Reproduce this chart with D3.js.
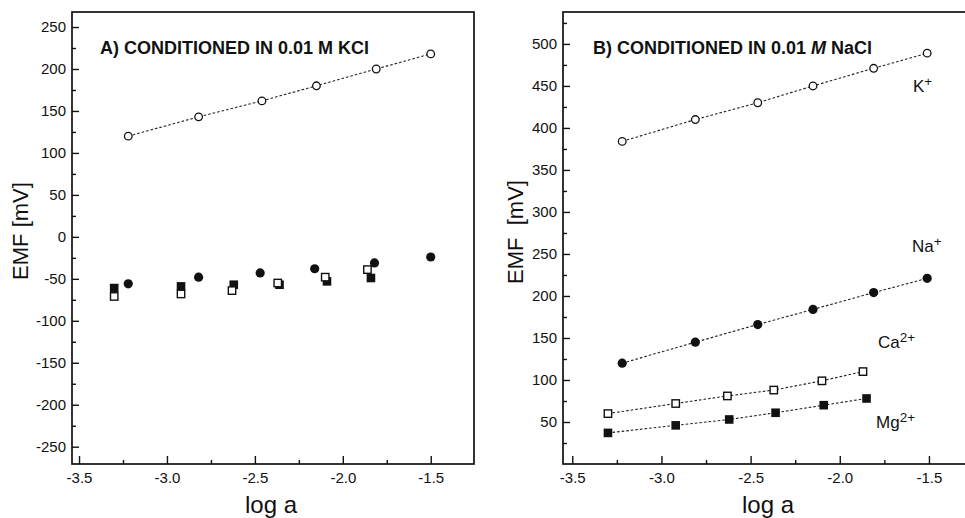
<!DOCTYPE html>
<html>
<head>
<meta charset="utf-8">
<script src="https://cdn.jsdelivr.net/npm/d3@7"></script>
<style>
  html, body { margin: 0; padding: 0; background: #fff; }
  svg { display: block; }
  text { font-family: "Liberation Sans", Arial, Helvetica, sans-serif; fill: #111; }
</style>
</head>
<body>
<svg id="chart" width="965" height="518"></svg>
<script>
// ---- Data: EMF response (mV) versus log activity of the primary ion ----
const xTicksMajor = [-3.5, -3.0, -2.5, -2.0, -1.5];
const xTicksMinor = [-3.25, -2.75, -2.25, -1.75];

// Panel A: electrode conditioned in 0.01 M KCl
const aKx  = [-3.22, -2.82, -2.46, -2.15, -1.81, -1.50];
const aKy  = [120, 143, 162, 180, 200, 218];
const aNax = [-3.22, -2.82, -2.47, -2.16, -1.82, -1.50];
const aNay = [-56, -48, -43, -38, -31, -24];
const aCax = [-3.30, -2.92, -2.63, -2.37, -2.10, -1.86];
const aCay = [-71, -68, -64, -55, -48, -39];
const aMgx = [-3.30, -2.92, -2.62, -2.36, -2.09, -1.84];
const aMgy = [-61, -59, -57, -57, -53, -49];
const aYTicksMajor = [-250, -200, -150, -100, -50, 0, 50, 100, 150, 200, 250];
const aYTicksMinor = [-225, -175, -125, -75, -25, 25, 75, 125, 175, 225];

// Panel B: electrode conditioned in 0.01 M NaCl
const bKx  = [-3.22, -2.81, -2.46, -2.15, -1.81, -1.51];
const bKy  = [384, 410, 430, 450, 471, 489];
const bNax = [-3.22, -2.81, -2.46, -2.15, -1.81, -1.51];
const bNay = [120, 145, 166, 184, 204, 221];
const bCax = [-3.30, -2.92, -2.63, -2.37, -2.10, -1.87];
const bCay = [60, 72, 81, 88, 99, 110];
const bMgx = [-3.30, -2.92, -2.62, -2.36, -2.09, -1.85];
const bMgy = [37, 46, 53, 61, 70, 78];
const bYTicksMajor = [50, 100, 150, 200, 250, 300, 350, 400, 450, 500];
const bYTicksMinor = [25, 75, 125, 175, 225, 275, 325, 375, 425, 475, 525];

const zip = (xs, ys) => xs.map((x, i) => ({ x, y: ys[i] }));

const svg = d3.select("#chart");
const INK = "#111";

// plain hyphen-minus for negative tick labels
const hyphen = f => v => f(v).replace("\u2212", "-");

function panel(cfg) {
  const g = svg.append("g");
  const x = d3.scaleLinear().domain(cfg.xDomain).range([cfg.left, cfg.right]);
  const y = d3.scaleLinear().domain(cfg.yDomain).range([cfg.bottom, cfg.top]);

  // major / minor ticks, pointing into the plot
  g.append("g").attr("transform", `translate(0,${cfg.bottom})`)
    .call(d3.axisBottom(x).tickValues(xTicksMajor).tickFormat(hyphen(d3.format(".1f")))
      .tickSizeInner(-8).tickSizeOuter(0).tickPadding(8.5));
  g.append("g").attr("transform", `translate(0,${cfg.bottom})`)
    .call(d3.axisBottom(x).tickValues(xTicksMinor).tickFormat("")
      .tickSizeInner(-4).tickSizeOuter(0));
  g.append("g").attr("transform", `translate(${cfg.left},0)`)
    .call(d3.axisLeft(y).tickValues(cfg.yMajor).tickFormat(hyphen(d3.format("d")))
      .tickSizeInner(-7).tickSizeOuter(0).tickPadding(6));
  g.append("g").attr("transform", `translate(${cfg.left},0)`)
    .call(d3.axisLeft(y).tickValues(cfg.yMinor).tickFormat("")
      .tickSizeInner(-4).tickSizeOuter(0));
  g.selectAll(".domain").remove();
  g.selectAll(".tick line").attr("stroke", INK).attr("stroke-width", 1.4);
  g.selectAll(".tick text").attr("font-size", 15).attr("fill", INK)
    .style("font-family", '"Liberation Sans", Arial, sans-serif');

  // frame
  g.append("rect")
    .attr("x", cfg.left).attr("y", cfg.top)
    .attr("width", cfg.frameRight - cfg.left).attr("height", cfg.bottom - cfg.top)
    .attr("fill", "none").attr("stroke", INK).attr("stroke-width", 1.7);

  // axis titles
  g.append("text")
    .attr("transform", `translate(${cfg.yTitleX},${cfg.yTitleY}) rotate(-90)`)
    .attr("text-anchor", "middle").attr("font-size", 22)
    .style("white-space", "pre")
    .text(cfg.yTitle);
  g.append("text")
    .attr("x", cfg.xTitleX).attr("y", 513)
    .attr("text-anchor", "middle").attr("font-size", 24)
    .text("log a");

  // panel heading
  const t = g.append("text")
    .attr("x", cfg.titleX).attr("y", 54)
    .attr("font-size", 18).attr("font-weight", "bold");
  cfg.titleParts.forEach(p => {
    const s = t.append("tspan").text(p.t);
    if (p.italic) s.attr("font-style", "italic");
  });

  const line = d3.line().x(d => x(d.x)).y(d => y(d.y));
  const plot = g.append("g");

  function dotted(pts) {
    plot.append("path").datum(pts).attr("d", line)
      .attr("fill", "none").attr("stroke", "#222")
      .attr("stroke-width", 1.1).attr("stroke-dasharray", "2.6,2");
  }
  function openCircles(pts) {
    plot.selectAll(null).data(pts).join("circle")
      .attr("cx", d => x(d.x)).attr("cy", d => y(d.y)).attr("r", 3.8)
      .attr("fill", "#fff").attr("stroke", INK).attr("stroke-width", 1.3);
  }
  function filledCircles(pts) {
    plot.selectAll(null).data(pts).join("circle")
      .attr("cx", d => x(d.x)).attr("cy", d => y(d.y)).attr("r", 4.6)
      .attr("fill", INK);
  }
  function openSquares(pts) {
    const s = 7.4;
    plot.selectAll(null).data(pts).join("rect")
      .attr("x", d => x(d.x) - s / 2).attr("y", d => y(d.y) - s / 2)
      .attr("width", s).attr("height", s)
      .attr("fill", "#fff").attr("stroke", INK).attr("stroke-width", 1.4);
  }
  function filledSquares(pts) {
    const s = 8.6;
    plot.selectAll(null).data(pts).join("rect")
      .attr("x", d => x(d.x) - s / 2).attr("y", d => y(d.y) - s / 2)
      .attr("width", s).attr("height", s).attr("fill", INK);
  }
  return { g, x, y, dotted, openCircles, filledCircles, openSquares, filledSquares };
}

// ---------------- Panel A ----------------
const A = panel({
  left: 72, right: 474, frameRight: 474, top: 12, bottom: 464,
  xDomain: [-3.54, -1.254], yDomain: [-270.6, 267.9],
  yMajor: aYTicksMajor, yMinor: aYTicksMinor,
  yTitle: "EMF [mV]", yTitleX: 28, yTitleY: 231, xTitleX: 271,
  titleX: 100,
  titleParts: [{ t: "A) CONDITIONED IN 0.01 M KCl" }]
});
A.dotted(zip(aKx, aKy));
A.openCircles(zip(aKx, aKy));
A.filledSquares(zip(aMgx, aMgy));
A.openSquares(zip(aCax, aCay));
A.filledCircles(zip(aNax, aNay));

// ---------------- Panel B ----------------
const B = panel({
  left: 563, right: 968, frameRight: 970, top: 12, bottom: 464,
  xDomain: [-3.552, -1.281], yDomain: [0, 538],
  yMajor: bYTicksMajor, yMinor: bYTicksMinor,
  yTitle: "EMF  [mV]", yTitleX: 523, yTitleY: 232, xTitleX: 768,
  titleX: 593,
  titleParts: [{ t: "B) CONDITIONED IN 0.01 " }, { t: "M", italic: true }, { t: " NaCl" }]
});
B.dotted(zip(bKx, bKy));
B.dotted(zip(bNax, bNay));
B.dotted(zip(bCax, bCay));
B.dotted(zip(bMgx, bMgy));
B.openCircles(zip(bKx, bKy));
B.filledCircles(zip(bNax, bNay));
B.openSquares(zip(bCax, bCay));
B.filledSquares(zip(bMgx, bMgy));

// ion labels
const ionLabels = [
  { ion: "K", charge: "+", x: 913, y: 92 },
  { ion: "Na", charge: "+", x: 912, y: 252 },
  { ion: "Ca", charge: "2+", x: 878, y: 348 },
  { ion: "Mg", charge: "2+", x: 876, y: 428 }
];
ionLabels.forEach(l => {
  const t = B.g.append("text").attr("x", l.x).attr("y", l.y).attr("font-size", 17);
  t.append("tspan").text(l.ion);
  t.append("tspan").attr("font-size", 13.5).attr("dy", -6).text(l.charge);
});
</script>
</body>
</html>
